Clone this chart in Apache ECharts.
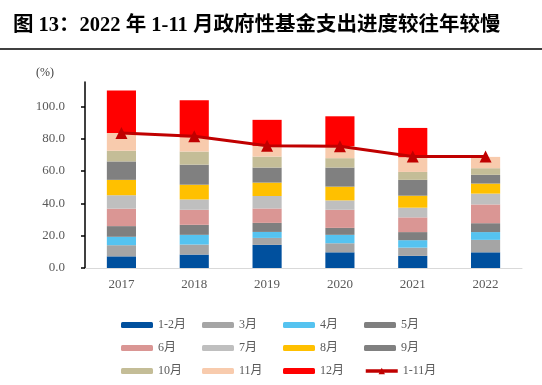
<!DOCTYPE html>
<html>
<head>
<meta charset="utf-8">
<script src="https://cdn.jsdelivr.net/npm/echarts@6/dist/echarts.min.js"></script>
<style>
html,body{margin:0;padding:0;background:#fff;}
#c{width:542px;height:385px;}
</style>
</head>
<body>
<div id="c"></div>
<script>
const categories = ['2017', '2018', '2019', '2020', '2021', '2022'];
const m1_2 = [7.2, 8.3, 14.3, 9.7, 7.5, 9.7];
const m3 = [6.9, 6.2, 4.3, 5.6, 5.1, 7.7];
const m4 = [5.2, 6.0, 3.7, 5.2, 4.6, 4.8];
const m5 = [6.6, 6.2, 5.6, 4.3, 5.0, 5.5];
const m6 = [10.8, 9.3, 8.9, 11.2, 9.1, 11.6];
const m7 = [8.3, 6.4, 7.7, 5.8, 6.0, 6.7];
const m8 = [9.5, 9.1, 8.3, 8.5, 7.4, 6.2];
const m9 = [11.4, 12.4, 9.3, 11.8, 9.8, 5.4];
const m10 = [6.6, 8.1, 6.8, 5.8, 4.9, 4.1];
const m11 = [11.0, 8.9, 6.6, 7.4, 9.1, 7.0];
const m12 = [26.3, 22.8, 16.1, 18.5, 18.1, null];
const m1_11 = [83.4, 81.4, 75.6, 75.3, 68.9, 68.9];
const yTicks = [0, 20, 40, 60, 80, 100];

const barDefs = [
  ['1-2月', m1_2, '#00509E'],
  ['3月', m3, '#A5A5A5'],
  ['4月', m4, '#55C3F0'],
  ['5月', m5, '#7F7F7F'],
  ['6月', m6, '#DA9694'],
  ['7月', m7, '#BFBFBF'],
  ['8月', m8, '#FFC000'],
  ['9月', m9, '#808080'],
  ['10月', m10, '#C4BD97'],
  ['11月', m11, '#F8CBAD'],
  ['12月', m12, '#FF0000']
];

const serif = '"Liberation Serif", "Noto Sans CJK SC", serif';
const series = barDefs.map(d => ({
  name: d[0], type: 'bar', stack: 'total', data: d[1], barWidth: '40%',
  itemStyle: {color: d[2]}
}));
series.push({
  name: '1-11月', type: 'line', data: m1_11,
  symbol: 'triangle', symbolSize: 12,
  lineStyle: {color: '#C00000', width: 3},
  itemStyle: {color: '#C00000'},
  z: 10
});

const names = barDefs.map(d => d[0]).concat(['1-11月']);
const legends = names.map((n, i) => {
  const lg = {
    orient: 'horizontal', padding: 0, itemGap: 0,
    left: 121 + (i % 4) * 81, top: 319 + Math.floor(i / 4) * 23,
    itemWidth: 32, itemHeight: 6,
    data: [n],
    textStyle: {fontFamily: serif, fontSize: 12, color: '#595959'}
  };
  if (n === '1-11月') {
    lg.itemHeight = 8;
    lg.lineStyle = {width: 3.5};
  }
  return lg;
});

const chart = echarts.init(document.getElementById('c'));
chart.setOption({
  animation: false,
  backgroundColor: '#fff',
  title: {
    text: '图 13：2022 年 1-11 月政府性基金支出进度较往年较慢',
    left: 13, top: 15, padding: 0,
    textStyle: {fontFamily: serif, fontSize: 20.5, fontWeight: 'bold', color: '#000'}
  },
  graphic: [{
    type: 'line', shape: {x1: 0, y1: 49, x2: 542, y2: 49},
    style: {stroke: '#000', lineWidth: 1.5}
  }, {
    type: 'text', left: 36, top: 67,
    style: {text: '(%)', font: '12px ' + serif, fill: '#404040'}
  }],
  legend: legends,
  grid: {left: 85, right: 20, top: 82, bottom: 117},
  xAxis: {
    type: 'category', data: categories,
    axisLine: {lineStyle: {color: '#D9D9D9', width: 1}},
    axisTick: {show: false},
    axisLabel: {fontFamily: serif, fontSize: 13, color: '#595959', margin: 10}
  },
  yAxis: {
    type: 'value', min: 0, max: 115, interval: 20,
    axisLine: {show: true, lineStyle: {color: '#000', width: 1.5}},
    axisTick: {show: true, length: 4, lineStyle: {color: '#000', width: 1.5}},
    splitLine: {show: false},
    axisLabel: {
      fontFamily: serif, fontSize: 13, color: '#595959', margin: 20,
      showMaxLabel: false,
      formatter: v => (yTicks.indexOf(v) >= 0 ? v.toFixed(1) : '')
    }
  },
  series: series
});
</script>
</body>
</html>
